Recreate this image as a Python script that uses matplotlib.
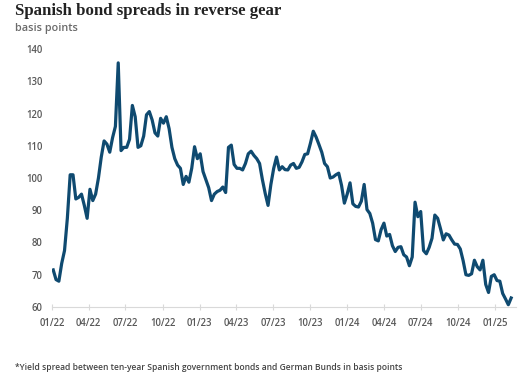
import matplotlib
matplotlib.use("Agg")
import matplotlib.pyplot as plt
import pandas as pd

# Weekly readings (Mondays) starting 2022-01-03, basis points
start_date = "2022-01-03"
spread_bp = [
    71.5, 68.5, 68.0, 73.5, 77.5, 87.5, 101.0, 101.0, 93.5, 94.0,
    95.0, 91.5, 87.5, 96.5, 93.0, 95.0, 100.0, 106.5, 111.5, 110.5,
    108.0, 112.5, 116.0, 135.7, 108.5, 109.5, 109.5, 112.0, 122.5, 119.0,
    109.5, 110.0, 113.0, 119.6, 120.6, 118.0, 114.0, 113.0, 118.5, 117.0,
    119.0, 115.3, 109.5, 106.0, 104.0, 103.0, 98.0, 100.5, 98.7, 103.0,
    109.7, 106.0, 107.5, 102.0, 99.5, 97.0, 93.0, 95.0, 95.8, 96.2,
    97.2, 95.5, 109.5, 110.2, 104.2, 103.0, 103.0, 102.5, 104.5, 107.5,
    108.3, 107.0, 106.0, 104.5, 99.5, 95.2, 91.5, 98.0, 103.0, 106.5,
    102.5, 103.5, 102.6, 102.5, 104.0, 104.5, 103.0, 103.3, 105.0, 107.3,
    107.5, 110.8, 114.5, 112.7, 110.4, 108.0, 104.5, 103.5, 100.0, 100.3,
    101.0, 101.5, 97.7, 92.2, 95.0, 98.5, 92.0, 91.2, 91.0, 92.8,
    98.0, 90.2, 89.0, 86.0, 80.9, 80.5, 84.0, 86.0, 82.0, 82.5,
    79.0, 77.2, 78.5, 78.7, 76.2, 75.5, 72.8, 75.5, 92.5, 88.0,
    89.6, 77.5, 76.5, 78.5, 81.3, 88.5, 87.5, 84.3, 80.8, 82.7,
    82.3, 80.8, 79.5, 79.4, 78.0, 74.4, 70.0, 69.8, 70.3, 74.5,
    72.5, 71.5, 74.5, 67.0, 64.5, 69.5, 70.0, 68.2, 68.0, 64.2,
    62.5, 60.7, 62.8,
]
dates = pd.date_range(start_date, periods=len(spread_bp), freq="7D")

tick_dates = pd.date_range("2022-01-01", "2025-01-01", freq="QS")
tick_labels = [d.strftime("%m/%y") for d in tick_dates]
y_ticks = [60, 70, 80, 90, 100, 110, 120, 130, 140]

title = "Spanish bond spreads in reverse gear"
subtitle = "basis points"
footnote = "*Yield spread between ten-year Spanish government bonds and German Bunds in basis points"

W, H = 526, 385
fig = plt.figure(figsize=(W / 100, H / 100), dpi=100)
ax = fig.add_axes([52 / W, 1 - 307 / H, (516 - 52) / W, (307 - 49) / H])

ax.plot(dates, spread_bp, color="#0f4a70", lw=2.3, solid_joinstyle="round")

ax.set_ylim(60, 140)
ax.set_xlim(pd.Timestamp("2021-12-31"), pd.Timestamp("2025-02-22"))
ax.set_yticks(y_ticks)
ax.set_xticks(tick_dates)
ax.set_xticklabels(tick_labels)

for s in ["top", "right", "left"]:
    ax.spines[s].set_visible(False)
ax.spines["bottom"].set_color("#d9d9d9")
ax.spines["bottom"].set_linewidth(0.8)

tick_color = "#595959"
ax.tick_params(axis="y", length=0, pad=7, labelsize=6.9, labelcolor=tick_color)
ax.tick_params(axis="x", direction="inout", length=4, color="#d9d9d9", width=0.8,
               pad=6, labelsize=6.9, labelcolor=tick_color)
for lab in ax.get_xticklabels() + ax.get_yticklabels():
    lab.set_family("Open Sans")
    lab.set_fontweight("semibold")

fig.text(15 / W, 1 - 11 / H, title, family="Liberation Serif", fontweight="bold",
         fontsize=12.1, color="#222222", va="center", ha="left")
fig.text(15 / W, 1 - 28 / H, subtitle, family="Open Sans", fontweight="semibold",
         fontsize=7.8, color="#6b6b6b", va="center", ha="left")
fig.text(15 / W, 1 - 367 / H, footnote, family="Open Sans", fontweight="semibold",
         fontsize=6.1, color="#444444", va="center", ha="left")

fig.savefig("out.png", dpi=100)
